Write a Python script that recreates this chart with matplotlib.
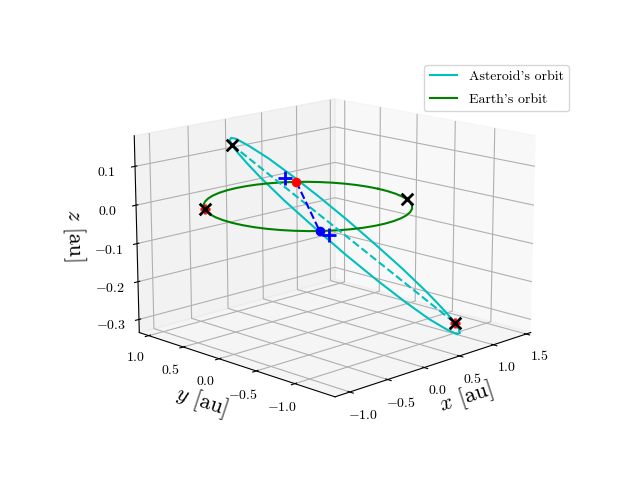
import matplotlib
matplotlib.use('Agg')
import matplotlib.pyplot as plt

plt.rcParams['font.family'] = ['cmr10', 'DejaVu Serif']
plt.rcParams['mathtext.fontset'] = 'cm'
plt.rcParams['axes.formatter.use_mathtext'] = True
plt.rcParams['axes.unicode_minus'] = True

# Asteroid orbit, au
ast_x = [1.36, 1.406, 1.445, 1.497, 1.512, 1.47, 1.35, 1.162, 0.919, 0.636, 0.334, 0.032, -0.248, -0.415, -0.557, -0.618,
         -0.672, -0.718, -0.757, -0.809, -0.824, -0.782, -0.662, -0.474, -0.231, 0.052, 0.354, 0.656, 0.936, 1.103, 1.245, 1.306, 1.36]
ast_y = [-0.71, -0.627, -0.541, -0.362, -0.177, 0.097, 0.352, 0.571, 0.737, 0.841, 0.874, 0.835, 0.727, 0.618, 0.487, 0.411,
         0.334, 0.251, 0.165, -0.014, -0.199, -0.473, -0.728, -0.947, -1.113, -1.217, -1.25, -1.211, -1.103, -0.994, -0.863, -0.787, -0.71]
ast_z = [-0.343, -0.339, -0.333, -0.316, -0.291, -0.243, -0.185, -0.119, -0.052, 0.013, 0.071, 0.117, 0.151, 0.164, 0.169, 0.169,
         0.167, 0.163, 0.157, 0.14, 0.115, 0.067, 0.009, -0.057, -0.124, -0.189, -0.247, -0.293, -0.327, -0.34, -0.345, -0.345, -0.343]

# Earth's orbit
earth_x = [1.0, 0.991, 0.966, 0.924, 0.866, 0.793, 0.707, 0.609, 0.5, 0.383, 0.259, 0.131,
           0.0, -0.131, -0.259, -0.383, -0.5, -0.609, -0.707, -0.793, -0.866, -0.924, -0.966, -0.991,
           -1.0, -0.991, -0.966, -0.924, -0.866, -0.793, -0.707, -0.609, -0.5, -0.383, -0.259, -0.131,
           0.0, 0.131, 0.259, 0.383, 0.5, 0.609, 0.707, 0.793, 0.866, 0.924, 0.966, 0.991, 1.0]
earth_y = [0.0, 0.131, 0.259, 0.383, 0.5, 0.609, 0.707, 0.793, 0.866, 0.924, 0.966, 0.991,
           1.0, 0.991, 0.966, 0.924, 0.866, 0.793, 0.707, 0.609, 0.5, 0.383, 0.259, 0.131,
           0.0, -0.131, -0.259, -0.383, -0.5, -0.609, -0.707, -0.793, -0.866, -0.924, -0.966, -0.991,
           -1.0, -0.991, -0.966, -0.924, -0.866, -0.793, -0.707, -0.609, -0.5, -0.383, -0.259, -0.131, 0.0]
earth_z = [0.0] * 49

# Line of apsides and node line
apsides_x = [-0.672, 1.36]
apsides_y = [0.334, -0.71]
apsides_z = [0.167, -0.343]
nodes_x = [0.63, -0.63]
nodes_y = [0.78, -0.77]
nodes_z = [0.0, 0.0]

# Markers
black_x = [-0.672, 1.36, -0.80, 0.87]
black_y = [0.334, -0.71, 0.58, -0.50]
black_z = [0.167, -0.343, 0.0, 0.0]
red_x = [1.36, -0.80]
red_y = [-0.71, 0.58]
red_z = [-0.343, 0.0]
plus_x = [0.68, -0.67]
plus_y = [0.99, -0.93]
plus_z = [0.0, 0.0]
red_pt_x, red_pt_y, red_pt_z = [0.63], [0.78], [0.0]
blue_pt_x, blue_pt_y, blue_pt_z = [-0.63], [-0.77], [0.0]

fig = plt.figure(figsize=(6.4, 4.8), dpi=100)
ax = fig.add_subplot(projection='3d')
ax.view_init(elev=14.5, azim=-135)
ax.set_box_aspect((4, 4, 2.9), zoom=1.17)
ax.set_position([0.125 + 2 / 640, 0.11 + 2 / 480, 0.775, 0.77])

ax.plot(ast_x, ast_y, ast_z, color='c', lw=1.5, label="Asteroid's orbit")
ax.plot(earth_x, earth_y, earth_z, color='g', lw=1.5, label="Earth's orbit")
ax.plot(apsides_x, apsides_y, apsides_z, color='c', ls='--', lw=1.5)
ax.plot(nodes_x, nodes_y, nodes_z, color='b', ls='--', lw=1.5)
ax.scatter(red_x, red_y, red_z, marker='+', color='r', s=60, linewidths=2, depthshade=False)
ax.scatter(black_x, black_y, black_z, marker='x', color='k', s=70, linewidths=2, depthshade=False)
ax.scatter(plus_x, plus_y, plus_z, marker='+', color='b', s=100, linewidths=2, depthshade=False)
ax.scatter(red_pt_x, red_pt_y, red_pt_z, color='r', s=35, depthshade=False)
ax.scatter(blue_pt_x, blue_pt_y, blue_pt_z, color='b', s=35, depthshade=False)

ax.set_xlim(-1.19, 1.57)
ax.set_ylim(-1.5, 1.14)
ax.set_zlim(-0.335, 0.178)
ax.set_xticks([-1.0, -0.5, 0.0, 0.5, 1.0, 1.5])
ax.set_yticks([-1.0, -0.5, 0.0, 0.5, 1.0])
ax.set_zticks([-0.3, -0.2, -0.1, 0.0, 0.1])
ax.tick_params(axis='x', labelsize=10, pad=0.5)
ax.tick_params(axis='y', labelsize=10, pad=0.5)
ax.tick_params(axis='z', labelsize=10, pad=2)
ax.set_xlabel(r'$x$ [au]', fontsize=16, labelpad=-3)
ax.set_ylabel(r'$y$ [au]', fontsize=16, labelpad=-1)
ax.set_zlabel(r'$z$ [au]', fontsize=16, labelpad=1)
ax.legend(loc='upper right', fontsize=10, labelspacing=0.7, borderaxespad=0,
          bbox_to_anchor=(569 / 640, 1 - 65 / 480), bbox_transform=fig.transFigure)
fig.savefig('out.png', dpi=100)
